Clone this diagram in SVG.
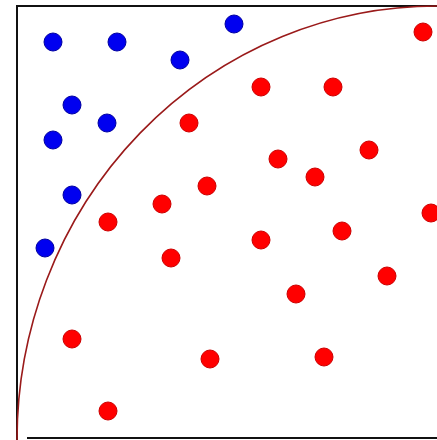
<svg xmlns="http://www.w3.org/2000/svg" width="437" height="440" viewBox="0 0 437 440">
  <style>
    .frame { stroke: #111; stroke-width: 2; fill: none; }
    .arc { stroke: #9a1a1a; stroke-width: 1.6; fill: none; }
    .in { fill: #f00; stroke: #c00; stroke-width: 1; }
    .out { fill: #0000f0; stroke: #0000a0; stroke-width: 1; }
  </style>
  <rect width="437" height="440" fill="#fff"/>
  <g id="frame">
    <line class="frame" x1="17" y1="6" x2="437" y2="6"/>
    <line class="frame" x1="17" y1="5" x2="17" y2="440"/>
    <line class="frame" x1="27" y1="438" x2="437" y2="438"/>
  </g>
  <g id="quarter-circle">
    <path class="arc" d="M 17 440 A 420 434 0 0 1 437 6"/>
  </g>
  <g id="outside-points">
    <circle class="out" cx="53" cy="42" r="9"/>
    <circle class="out" cx="117" cy="42" r="9"/>
    <circle class="out" cx="234" cy="24" r="9"/>
    <circle class="out" cx="180" cy="60" r="9"/>
    <circle class="out" cx="72" cy="105" r="9"/>
    <circle class="out" cx="107" cy="123" r="9"/>
    <circle class="out" cx="53" cy="140" r="9"/>
    <circle class="out" cx="72" cy="195" r="9"/>
    <circle class="out" cx="45" cy="248" r="9"/>
  </g>
  <g id="inside-points">
    <circle class="in" cx="423" cy="32" r="9"/>
    <circle class="in" cx="261" cy="87" r="9"/>
    <circle class="in" cx="333" cy="87" r="9"/>
    <circle class="in" cx="189" cy="123" r="9"/>
    <circle class="in" cx="369" cy="150" r="9"/>
    <circle class="in" cx="278" cy="159" r="9"/>
    <circle class="in" cx="315" cy="177" r="9"/>
    <circle class="in" cx="207" cy="186" r="9"/>
    <circle class="in" cx="162" cy="204" r="9"/>
    <circle class="in" cx="108" cy="222" r="9"/>
    <circle class="in" cx="431" cy="213" r="9"/>
    <circle class="in" cx="342" cy="231" r="9"/>
    <circle class="in" cx="261" cy="240" r="9"/>
    <circle class="in" cx="171" cy="258" r="9"/>
    <circle class="in" cx="387" cy="276" r="9"/>
    <circle class="in" cx="296" cy="294" r="9"/>
    <circle class="in" cx="72" cy="339" r="9"/>
    <circle class="in" cx="210" cy="359" r="9"/>
    <circle class="in" cx="324" cy="357" r="9"/>
    <circle class="in" cx="108" cy="411" r="9"/>
  </g>
</svg>
